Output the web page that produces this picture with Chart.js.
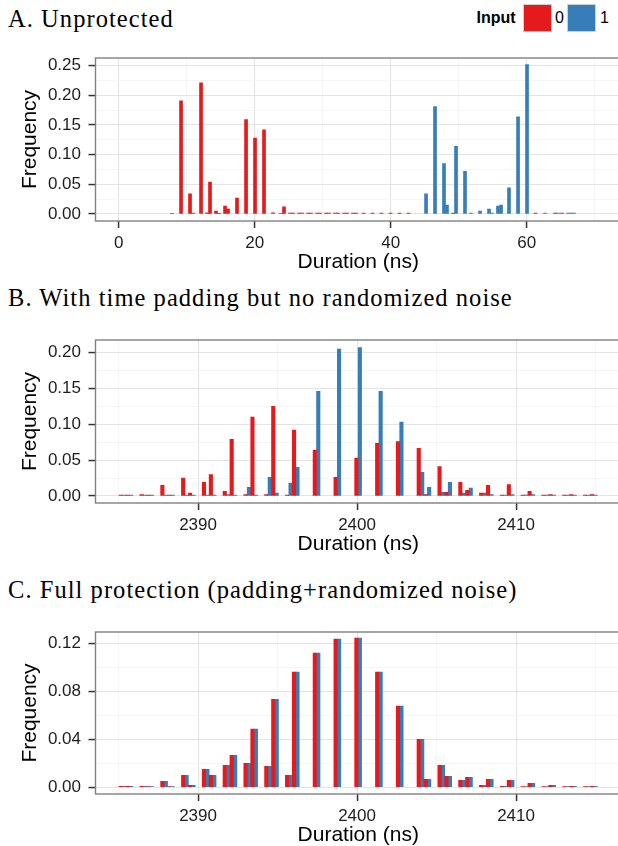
<!DOCTYPE html>
<html>
<head>
<meta charset="utf-8">
<script src="https://cdn.jsdelivr.net/npm/chart.js@4.4.1/dist/chart.umd.min.js"></script>
<style>
html,body{margin:0;padding:0;background:#fff;width:618px;height:846px;overflow:hidden;position:relative}
canvas{position:absolute;left:0}
.ttl{position:absolute;left:8px;font-family:'Liberation Serif',serif;font-size:24.5px;letter-spacing:1.05px;line-height:24.5px;color:#000;white-space:nowrap}
.lg{position:absolute;font-family:'Liberation Sans',Arial,sans-serif;font-size:16px;color:#000;line-height:16px}
.box{position:absolute;top:4px;width:29px;height:28px;box-sizing:border-box;border:1px solid #cfcfcf}
</style>
</head>
<body>
<div class="ttl" style="top:6.5px">A. Unprotected</div>
<div class="ttl" style="top:286px">B. With time padding but no randomized noise</div>
<div class="ttl" style="top:577.5px">C. Full protection (padding+randomized noise)</div>
<div class="lg" style="left:476.5px;top:10px;font-weight:bold">Input</div>
<div class="box" style="left:522.5px;background:#E41A1C"></div>
<div class="lg" style="left:555px;top:10px">0</div>
<div class="box" style="left:567px;background:#377EB8"></div>
<div class="lg" style="left:600px;top:10px">1</div>

<canvas id="cA" width="621" height="285" style="top:0px"></canvas>
<canvas id="cB" width="621" height="285" style="top:282px"></canvas>
<canvas id="cC" width="621" height="284" style="top:574px"></canvas>

<script>
// ---------- Panel A: Unprotected (durations in ns) ----------
const aRedX = [7.82, 9.15, 10.47, 10.91, 12.09, 12.97, 13.41, 14.29, 14.74, 15.62, 16.06, 17.38, 18.71, 20.03, 21.35, 22.68, 23.85, 24.29,
  25.18, 25.62, 26.50, 26.94, 27.82, 28.26, 29.15, 29.59, 30.47, 30.91, 31.79, 32.24, 33.12, 33.56, 34.44, 34.88,
  35.99, 37.31, 38.63, 39.96, 41.28, 42.60, 49.15, 61.28, 64.15, 65.18];
const aRedY = [0.0012, 0.191, 0.034, 0.0015, 0.221, 0.002, 0.054, 0.005, 0.0012, 0.0135, 0.0085, 0.027, 0.159, 0.128, 0.142, 0.002, 0.0012, 0.012,
  0.0015, 0.0015, 0.0015, 0.0015, 0.0015, 0.0015, 0.0015, 0.0015, 0.0015, 0.0015, 0.0015, 0.0015, 0.0015, 0.0015, 0.0015, 0.0015,
  0.0015, 0.0015, 0.0015, 0.0015, 0.0015, 0.0015, 0.0015, 0.0015, 0.0015, 0.0015];
const aBlueX = [45.18, 46.50, 47.82, 48.26, 49.59, 50.91, 51.79, 53.12, 54.44, 54.88, 55.76, 56.21, 57.38, 58.71, 60.03,
  62.68, 64.59, 66.06, 66.50, 66.94];
const aBlueY = [0.034, 0.181, 0.085, 0.015, 0.114, 0.072, 0.0015, 0.005, 0.0085, 0.0015, 0.0135, 0.015, 0.044, 0.164, 0.252,
  0.0015, 0.0015, 0.0015, 0.0015, 0.0015];

// ---------- Panels B and C: histogram bins (bin centres, ns) ----------
const binsBC = [2385.250, 2385.686, 2386.557, 2386.993, 2387.865, 2388.301, 2389.172, 2389.608, 2390.480, 2390.915,
  2391.787, 2392.223, 2393.094, 2393.530, 2394.402, 2394.838, 2395.709, 2396.145, 2397.452, 2398.760,
  2400.067, 2401.375, 2402.682, 2403.989, 2404.425, 2405.297, 2405.733, 2406.604, 2407.040, 2407.912,
  2408.347, 2409.219, 2409.655, 2410.526, 2410.962, 2411.834, 2412.270, 2413.141, 2413.577, 2414.449, 2414.884];
const bRed = [0.0012, 0.0012, 0.002, 0.0012, 0.015, 0.0012, 0.025, 0.004, 0.019, 0.030,
  0.0065, 0.079, 0.002, 0.110, 0.002, 0.125, 0.0012, 0.092, 0.064, 0.026,
  0.053, 0.0735, 0.076, 0.0665, 0.002, 0.041, 0.005, 0.019, 0.008, 0.004,
  0.015, 0.0012, 0.016, 0.0012, 0.0065, 0.0012, 0.002, 0.0012, 0.002, 0.0012, 0.002];
const bBlue = [0.0012, 0.0012, 0.0012, 0.0012, 0.0012, 0.0012, 0.0012, 0.0012, 0.0012, 0.0012,
  0.002, 0.0012, 0.012, 0.0012, 0.026, 0.004, 0.018, 0.040, 0.146, 0.205,
  0.207, 0.146, 0.103, 0.033, 0.012, 0.005, 0.019, 0.004, 0.011, 0.004,
  0.002, 0.0012, 0.002, 0.0012, 0.002, 0.0012, 0.0012, 0.0012, 0.0012, 0.0012, 0.0012];
const cRed = [0.0008, 0.0008, 0.0008, 0.0005, 0.005, 0.0005, 0.010, 0.0017, 0.015, 0.010,
  0.0184, 0.0267, 0.020, 0.0485, 0.0175, 0.0735, 0.010, 0.0961, 0.112, 0.1237,
  0.1245, 0.0961, 0.0677, 0.0401, 0.0067, 0.0184, 0.0092, 0.0058, 0.0084, 0.0017,
  0.0067, 0.0008, 0.0058, 0.0005, 0.0033, 0.0005, 0.0017, 0.0005, 0.0008, 0.0005, 0.0008];
const cBlue = [0.0008, 0.0008, 0.0008, 0.0005, 0.005, 0.0005, 0.010, 0.0017, 0.015, 0.010,
  0.0184, 0.0267, 0.020, 0.0485, 0.0175, 0.0735, 0.010, 0.0961, 0.112, 0.1237,
  0.1245, 0.0961, 0.0677, 0.0401, 0.0067, 0.0184, 0.0092, 0.0058, 0.0084, 0.0017,
  0.0067, 0.0008, 0.0058, 0.0005, 0.0033, 0.0005, 0.0017, 0.0005, 0.0008, 0.0005, 0.0008];

// ---------- Axis ticks ----------
const xMajorA = [0, 20, 40, 60], xLabelsA = ['0', '20', '40', '60'], xMinorA = [10, 30, 50, 70];
const yMajorA = [0, 0.05, 0.10, 0.15, 0.20, 0.25], yLabelsA = ['0.00', '0.05', '0.10', '0.15', '0.20', '0.25'];
const yMinorA = [0.025, 0.075, 0.125, 0.175, 0.225];
const xMajorBC = [2390, 2400, 2410], xLabelsBC = ['2390', '2400', '2410'], xMinorBC = [2385, 2395, 2405, 2415];
const yMajorB = [0, 0.05, 0.10, 0.15, 0.20], yLabelsB = ['0.00', '0.05', '0.10', '0.15', '0.20'];
const yMinorB = [0.025, 0.075, 0.125, 0.175];
const yMajorC = [0, 0.04, 0.08, 0.12], yLabelsC = ['0.00', '0.04', '0.08', '0.12'];
const yMinorC = [0.02, 0.06, 0.10];

const RED = '#E41A1C', BLUE = '#377EB8';
const SANS = "'Liberation Sans', Arial, sans-serif";

const framePlugin = {
  id: 'frame',
  afterDatasetsDraw(chart) {
    const {ctx, chartArea: a} = chart;
    ctx.save();
    ctx.strokeStyle = '#808080';
    ctx.lineWidth = 1.4;
    ctx.strokeRect(a.left, a.top, a.right - a.left, a.bottom - a.top);
    ctx.restore();
  }
};

function axis(major, labels, minor, min, max, isX, title) {
  const all = major.concat(minor).sort((p, q) => p - q);
  const isMaj = c => c.tick && major.indexOf(c.tick.value) >= 0;
  const cfg = {
    type: 'linear', min: min, max: max, offset: false,
    afterBuildTicks: s => { s.ticks = all.map(v => ({value: v})); },
    grid: {
      offset: false,
      color: c => isMaj(c) ? '#e4e4e4' : '#f4f4f4',
      lineWidth: c => isMaj(c) ? 1.1 : 0.9,
      tickColor: c => isMaj(c) ? '#333333' : 'rgba(0,0,0,0)',
      tickLength: 7, tickWidth: 1.5
    },
    border: {display: false},
    ticks: {
      autoSkip: false, maxRotation: 0, minRotation: 0,
      padding: isX ? 5 : 7.5,
      color: '#1e1e1e', font: {family: SANS, size: 17},
      callback: v => { const i = major.indexOf(v); return i >= 0 ? labels[i] : ''; }
    },
    title: {
      display: true, text: title, color: '#000', font: {family: SANS, size: 21},
      padding: isX ? {top: 0, bottom: 10} : {top: 17.9, bottom: 0}
    }
  };
  if (isX) cfg.afterFit = s => { s.height = 64; };
  else cfg.afterFit = s => { s.width = 95.5; };
  return cfg;
}

function makeChart(id, datasets, xa, ya) {
  new Chart(document.getElementById(id), {
    type: 'bar',
    data: {datasets: datasets},
    options: {
      responsive: false, animation: false, devicePixelRatio: 1,
      layout: {padding: {top: 58, left: 0, right: 0, bottom: 0}},
      plugins: {legend: {display: false}, tooltip: {enabled: false}},
      scales: {x: xa, y: ya}
    },
    plugins: [framePlugin]
  });
}

const pts = (xs, ys) => xs.map((x, i) => ({x: x, y: ys[i]}));

makeChart('cA', [
  {label: '0', data: pts(aRedX, aRedY), backgroundColor: RED, grouped: false, barThickness: 3},
  {label: '1', data: pts(aBlueX, aBlueY), backgroundColor: BLUE, grouped: false, barThickness: 3}
], axis(xMajorA, xLabelsA, xMinorA, -3.43, 73.85, true, 'Duration (ns)'),
   axis(yMajorA, yLabelsA, yMinorA, -0.0118, 0.263, false, 'Frequency'));

makeChart('cB', [
  {label: '0', data: pts(binsBC, bRed), backgroundColor: RED, categoryPercentage: 1, barPercentage: 1},
  {label: '1', data: pts(binsBC, bBlue), backgroundColor: BLUE, categoryPercentage: 1, barPercentage: 1}
], axis(xMajorBC, xLabelsBC, xMinorBC, 2383.55, 2416.6, true, 'Duration (ns)'),
   axis(yMajorB, yLabelsB, yMinorB, -0.0098, 0.2176, false, 'Frequency'));

makeChart('cC', [
  {label: '0', data: pts(binsBC, cRed), backgroundColor: RED, categoryPercentage: 1, barPercentage: 1},
  {label: '1', data: pts(binsBC, cBlue), backgroundColor: BLUE, categoryPercentage: 1, barPercentage: 1}
], axis(xMajorBC, xLabelsBC, xMinorBC, 2383.55, 2416.6, true, 'Duration (ns)'),
   axis(yMajorC, yLabelsC, yMinorC, -0.0056, 0.1296, false, 'Frequency'));
</script>
</body>
</html>
